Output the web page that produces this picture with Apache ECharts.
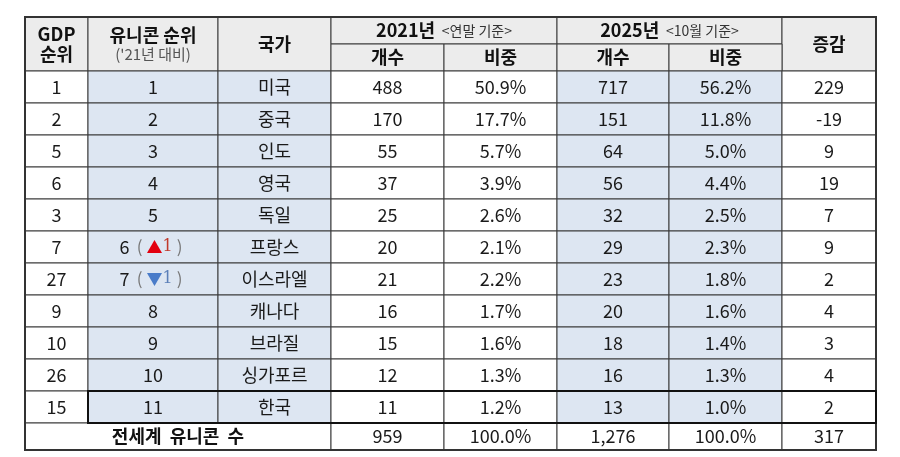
<!DOCTYPE html>
<html>
<head>
<meta charset="utf-8">
<script src="https://cdn.jsdelivr.net/npm/echarts@6/dist/echarts.min.js"></script>
<style>
  html, body { margin: 0; padding: 0; background: #fff; }
  #main { width: 900px; height: 457px; }
</style>
</head>
<body>
<div id="main"></div>
<script>
// 표 데이터
const gdpRank = [1, 2, 5, 6, 3, 7, 27, 9, 10, 26, 15]
const unicornRank = [1, 2, 3, 4, 5, 6, 7, 8, 9, 10, 11]
const rankMove = ['', '', '', '', '', '▲1', '▼1', '', '', '', '']
const countries = ['미국', '중국', '인도', '영국', '독일', '프랑스', '이스라엘', '캐나다', '브라질', '싱가포르', '한국']
const count2021 = [488, 170, 55, 37, 25, 20, 21, 16, 15, 12, 11]
const share2021 = [50.9, 17.7, 5.7, 3.9, 2.6, 2.1, 2.2, 1.7, 1.6, 1.3, 1.2]
const count2025 = [717, 151, 64, 56, 32, 29, 23, 20, 18, 16, 13]
const share2025 = [56.2, 11.8, 5.0, 4.4, 2.5, 2.3, 1.8, 1.6, 1.4, 1.3, 1.0]
const diff = [229, -19, 9, 19, 7, 9, 2, 4, 3, 4, 2]
const totalLabel = '전세계 유니콘 수'
const totals = [959, 100.0, 1276, 100.0, 317]

// 레이아웃 (열/행 경계)
const colEdges = [0, 63, 193, 306, 419, 532, 644, 757, 851]
const rowEdges = [0, 27, 54, 86, 118, 150, 182, 214, 246, 278, 310, 342, 374, 406, 433]

const FONT = '"Noto Sans CJK KR", "Noto Sans", sans-serif'
const HEAD_BG = '#ececec'
const BLUE_BG = '#dde6f2'
const WHITE = '#ffffff'

const fmt = v => v.toLocaleString('en-US')
const pct = v => v.toFixed(1) + '%'

// 셀 목록
const cells = []
function cell (c0, c1, r0, r1, text, bg) {
  cells.push({ c0, c1, r0, r1, text, bg })
}

// 헤더
cell(0, 1, 0, 2, '{hb|GDP}\n{hb|순위}', HEAD_BG)
cell(1, 2, 0, 2, '{hb|유니콘 순위}\n{hs|(\'21년 대비)}', HEAD_BG)
cell(2, 3, 0, 2, '{hb|국가}', HEAD_BG)
cell(3, 5, 0, 1, '{hb|2021년}  {hn|<연말 기준>}', HEAD_BG)
cell(5, 7, 0, 1, '{hb|2025년}  {hn|<10월 기준>}', HEAD_BG)
cell(7, 8, 0, 2, '{hb|증감}', HEAD_BG)
cell(3, 4, 1, 2, '{hb|개수}', HEAD_BG)
cell(4, 5, 1, 2, '{hb|비중}', HEAD_BG)
cell(5, 6, 1, 2, '{hb|개수}', HEAD_BG)
cell(6, 7, 1, 2, '{hb|비중}', HEAD_BG)

// 본문
countries.forEach((name, i) => {
  const r = i + 2
  let rankText = '{n|' + unicornRank[i] + '}'
  if (rankMove[i]) {
    const up = rankMove[i][0] === '▲'
    rankText = '{n|' + unicornRank[i] + '} {p|(}' +
      (up ? '{up|▲}{ur|' : '{dn|▼}{dr|') + rankMove[i].slice(1) + '}{p|)}'
  }
  cell(0, 1, r, r + 1, '{n|' + gdpRank[i] + '}', WHITE)
  cell(1, 2, r, r + 1, rankText, BLUE_BG)
  cell(2, 3, r, r + 1, '{k|' + name + '}', BLUE_BG)
  cell(3, 4, r, r + 1, '{n|' + fmt(count2021[i]) + '}', WHITE)
  cell(4, 5, r, r + 1, '{n|' + pct(share2021[i]) + '}', WHITE)
  cell(5, 6, r, r + 1, '{n|' + fmt(count2025[i]) + '}', BLUE_BG)
  cell(6, 7, r, r + 1, '{n|' + pct(share2025[i]) + '}', BLUE_BG)
  cell(7, 8, r, r + 1, '{n|' + diff[i] + '}', WHITE)
})

// 합계
const tr = countries.length + 2
cell(0, 3, tr, tr + 1, '{tb|' + totalLabel.split(' ').join('  ') + '}', WHITE)
cell(3, 4, tr, tr + 1, '{n|' + fmt(totals[0]) + '}', WHITE)
cell(4, 5, tr, tr + 1, '{n|' + pct(totals[1]) + '}', WHITE)
cell(5, 6, tr, tr + 1, '{n|' + fmt(totals[2]) + '}', WHITE)
cell(6, 7, tr, tr + 1, '{n|' + pct(totals[3]) + '}', WHITE)
cell(7, 8, tr, tr + 1, '{n|' + fmt(totals[4]) + '}', WHITE)

// 굵은 테두리
const frames = [
  { c0: 0, c1: 8, r0: 0, r1: tr + 1, w: 2, color: '#333' },
  { c0: 1, c1: 8, r0: tr - 1, r1: tr, w: 2, color: '#111' }
]

const rich = {
  hb: { fontFamily: FONT, fontSize: 18, fontWeight: 'bold', fill: '#111', lineHeight: 20 },
  hs: { fontFamily: FONT, fontSize: 15, fill: '#555', lineHeight: 17 },
  hn: { fontFamily: FONT, fontSize: 14, fill: '#333' },
  n: { fontFamily: FONT, fontSize: 18, fill: '#1a1a1a' },
  k: { fontFamily: FONT, fontSize: 18, fill: '#1a1a1a' },
  tb: { fontFamily: FONT, fontSize: 18, fontWeight: 'bold', fill: '#111' },
  p: { fontFamily: FONT, fontSize: 17, fill: '#777', padding: [0, 4, 0, 4] },
  up: { fontFamily: FONT, fontSize: 16, fill: '#e3000f' },
  ur: { fontFamily: '"DejaVu Serif", serif', fontSize: 16, fill: '#c0392b' },
  dn: { fontFamily: FONT, fontSize: 16, fill: '#4a7cc9' },
  dr: { fontFamily: '"DejaVu Serif", serif', fontSize: 16, fill: '#5b7fb8' }
}

function rectOf (api, d) {
  const p0 = api.coord([colEdges[d.c0], rowEdges[d.r0]])
  const p1 = api.coord([colEdges[d.c1], rowEdges[d.r1]])
  return { x: p0[0], y: p0[1], width: p1[0] - p0[0], height: p1[1] - p0[1] }
}

const myChart = echarts.init(document.getElementById('main'), null, { renderer: 'canvas' })

myChart.setOption({
  animation: false,
  grid: { left: 25, top: 17, width: 851, height: 433 },
  xAxis: { type: 'value', min: 0, max: colEdges[colEdges.length - 1], show: false },
  yAxis: { type: 'value', min: 0, max: rowEdges[rowEdges.length - 1], inverse: true, show: false },
  series: [
    {
      type: 'custom',
      data: cells.map((c, i) => [colEdges[c.c0], colEdges[c.c1], rowEdges[c.r0], rowEdges[c.r1], i]),
      renderItem: (params, api) => {
        const c = cells[params.dataIndex]
        return {
          type: 'rect',
          shape: rectOf(api, c),
          style: { fill: c.bg, stroke: '#3a3a3a', lineWidth: 1 },
          textContent: {
            style: { text: c.text, rich, align: 'center', verticalAlign: 'middle' }
          },
          textConfig: { position: 'inside' }
        }
      }
    },
    {
      type: 'custom',
      z: 5,
      data: frames.map((f, i) => [colEdges[f.c0], colEdges[f.c1], rowEdges[f.r0], rowEdges[f.r1], i]),
      renderItem: (params, api) => {
        const f = frames[params.dataIndex]
        return {
          type: 'rect',
          shape: rectOf(api, f),
          style: { fill: 'none', stroke: f.color, lineWidth: f.w }
        }
      }
    }
  ]
})
</script>
</body>
</html>
